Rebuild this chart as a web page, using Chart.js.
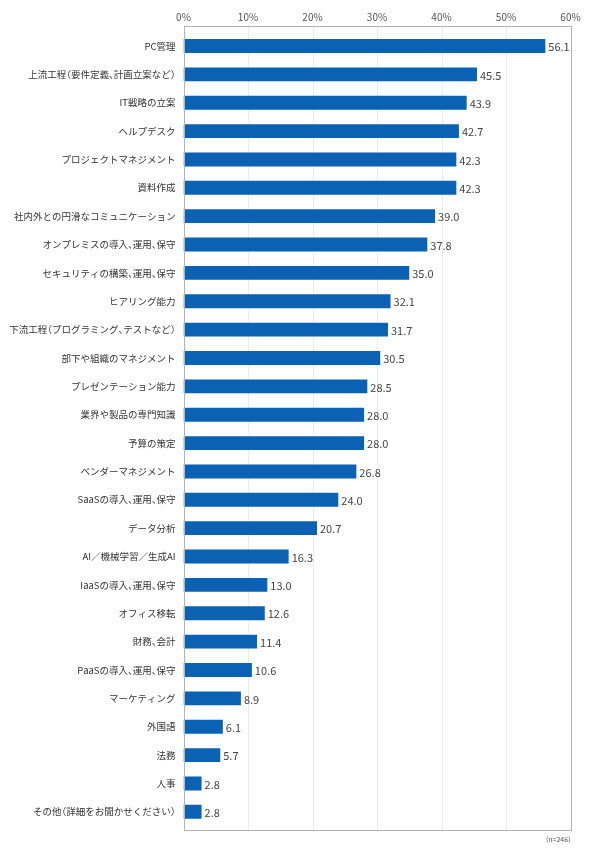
<!DOCTYPE html>
<html><head><meta charset="utf-8">
<script src="https://cdn.jsdelivr.net/npm/chart.js@4/dist/chart.umd.min.js"></script>
<style>html,body{margin:0;padding:0;background:#fff}#wrap{width:590px;height:860px}</style>
</head><body><div id="wrap"><canvas id="c"></canvas></div>
<script>
const categories = ["PC管理","上流工程（要件定義、計画立案など）","IT戦略の立案","ヘルプデスク","プロジェクトマネジメント","資料作成","社内外との円滑なコミュニケーション","オンプレミスの導入、運用、保守","セキュリティの構築、運用、保守","ヒアリング能力","下流工程（プログラミング、テストなど）","部下や組織のマネジメント","プレゼンテーション能力","業界や製品の専門知識","予算の策定","ベンダーマネジメント","SaaSの導入、運用、保守","データ分析","AI／機械学習／生成AI","IaaSの導入、運用、保守","オフィス移転","財務、会計","PaaSの導入、運用、保守","マーケティング","外国語","法務","人事","その他（詳細をお聞かせください）"];
const values = [56.1,45.5,43.9,42.7,42.3,42.3,39.0,37.8,35.0,32.1,31.7,30.5,28.5,28.0,28.0,26.8,24.0,20.7,16.3,13.0,12.6,11.4,10.6,8.9,6.1,5.7,2.8,2.8];
const xTicks = [0,10,20,30,40,50,60];
const note = "(n=246)";
const FONT = "'Noto Sans CJK JP','Noto Sans',sans-serif";

// half-width treatment for CJK punctuation (proportional spacing)
const OPEN = "（「";
const CLOSE = "）」、。";

function drawLabel(ctx, text, right, y, size){
  const em = size;
  const parts = [];
  let total = 0;
  for (const ch of text){
    let adv, shift = 0;
    if (OPEN.includes(ch)) { adv = em*0.5; shift = -em*0.5; }
    else if (CLOSE.includes(ch)) { adv = em*0.5; }
    else { adv = ctx.measureText(ch).width; }
    parts.push([ch, adv, shift]); total += adv;
  }
  let x = right - total;
  for (const [ch, adv, shift] of parts){ ctx.fillText(ch, x + shift, y); x += adv; }
}

const overlay = {
  id:'overlay',
  beforeDatasetsDraw(chart){
    const ctx = chart.ctx, a = chart.chartArea, xs = chart.scales.x;
    const top = a.top - 6, bottom = a.bottom + 4;
    ctx.save();
    ctx.strokeStyle = '#ececec'; ctx.lineWidth = 1;
    xTicks.slice(1, -1).forEach(v=>{
      const px = Math.round(xs.getPixelForValue(v)) + 0.5;
      ctx.beginPath(); ctx.moveTo(px, top); ctx.lineTo(px, bottom); ctx.stroke();
    });
    ctx.restore();
  },
  afterDatasetsDraw(chart){
    const ctx = chart.ctx, a = chart.chartArea, ys = chart.scales.y;
    const top = a.top - 6, bottom = a.bottom + 4;
    ctx.save();
    ctx.strokeStyle = '#b4b4b4'; ctx.lineWidth = 1;
    ctx.strokeRect(Math.round(a.left)+0.5, Math.round(top)+0.5, Math.round(a.right-a.left), Math.round(bottom-top));
    // category labels
    ctx.font = "9.5px " + FONT; ctx.fillStyle = '#333'; ctx.textBaseline = 'middle'; ctx.textAlign = 'left';
    categories.forEach((c,i)=>{ drawLabel(ctx, c, a.left - 8, ys.getPixelForValue(i), 9.5); });
    // value labels
    const meta = chart.getDatasetMeta(0);
    ctx.font = "11px " + FONT; ctx.fillStyle = '#444';
    meta.data.forEach((el,i)=>{ ctx.fillText(values[i].toFixed(1), el.x + 3, el.y + 1); });
    ctx.font = "7px " + FONT; ctx.fillStyle = '#555'; ctx.textAlign = 'right';
    ctx.fillText(note, a.right, bottom + 9);
    ctx.restore();
  }
};

new Chart(document.getElementById('c'), {
  type:'bar',
  data:{ labels:categories, datasets:[{ data:values, backgroundColor:'#0b61b3', borderWidth:0, barPercentage:0.49, categoryPercentage:1 }] },
  options:{
    indexAxis:'y', responsive:true, maintainAspectRatio:false, animation:false,
    layout:{ padding:{ left:0, right:19.5, top:0, bottom:34 } },
    plugins:{ legend:{display:false}, tooltip:{enabled:false} },
    scales:{
      x:{ position:'top', min:0, max:60,
          afterBuildTicks(s){ s.ticks = xTicks.map(v=>({value:v})); },
          afterFit(s){ s.height = 31.8; },
          grid:{ display:false },
          border:{ display:false },
          ticks:{ callback:v=>v+'%', color:'#555', font:{ size:10, family:FONT }, padding:1, maxRotation:0 } },
      y:{ afterFit(s){ s.width = 183.5; },
          grid:{ display:false }, border:{ display:false },
          ticks:{ display:false } }
    }
  },
  plugins:[overlay]
});
</script></body></html>
